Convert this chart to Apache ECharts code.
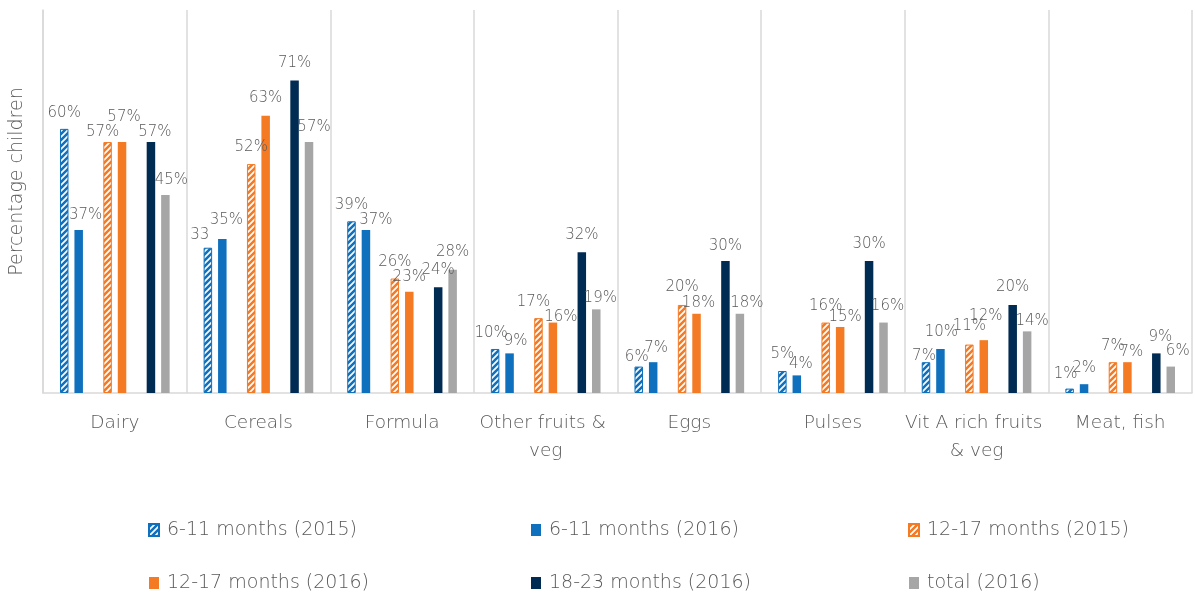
<!DOCTYPE html>
<html>
<head>
<meta charset="utf-8">
<script src="https://cdn.jsdelivr.net/npm/echarts@6/dist/echarts.min.js"></script>
<style>
  html, body { margin: 0; padding: 0; background: #fff; }
  #chart { width: 1195px; height: 594px; }
</style>
</head>
<body>
<div id="chart"></div>
<script>
// Food groups eaten by young children, by age band and survey year
const categories = ['Dairy', 'Cereals', 'Formula', 'Other fruits & veg', 'Eggs', 'Pulses', 'Vit A rich fruits & veg', 'Meat, fish'];

const age6to11_2015 = [60, 33, 39, 10, 6, 5, 7, 1];
const age6to11_2016 = [37, 35, 37, 9, 7, 4, 10, 2];
const age12to17_2015 = [57, 52, 26, 17, 20, 16, 11, 7];
const age12to17_2016 = [57, 63, 23, 16, 18, 15, 12, 7];
const age18to23_2016 = [57, 71, 24, 32, 30, 30, 20, 9];
const total2016 = [45, 57, 28, 19, 18, 16, 14, 6];

// value labels printed without a percent sign: [series name, category index]
const bareLabels = [['6-11 months (2015)', 1]];

// hand placement of crowded value labels, [dx, dy] in px from the default spot above each bar
const labelNudge = {
  '6-11 months (2015)':  [[0, 1], [-8, 4], [0, 0], [-4, 1], [-2, 7], [0, 0], [-2, 10], [-4, 2]],
  '6-11 months (2016)':  [[7, 1], [4, -2], [10, 6], [6, 4], [3, 2], [4, 5], [1, 0], [0, 0]],
  '12-17 months (2015)': [[-5, 7], [0, 0], [0, 0], [-5, 0], [0, -1], [0, 0], [0, -2], [0, 0]],
  '12-17 months (2016)': [[2, -8], [0, -1], [0, 2], [8, 11], [2, 6], [5, 7], [2, -8], [4, 6]],
  '18-23 months (2016)': [[4, 7], [0, -1], [0, -1], [0, -1], [0, 2], [0, 0], [0, -1], [4, 0]],
  'total (2016)':        [[6, 2], [5, 2], [0, -1], [4, 5], [7, 6], [4, 0], [5, 6], [7, 1]]
};

const TEXT = '#595959';
const FONT = 'DejaVu Sans';
const BLUE = '#0F71BD';
const ORANGE = '#F47A24';
const NAVY = '#002B52';
const GREY = '#A6A6A6';

// diagonal white hatch over a solid colour, used for the 2015 survey bars
function hatch(color) {
  const c = document.createElement('canvas');
  c.width = 6; c.height = 6;
  const g = c.getContext('2d');
  g.fillStyle = color;
  g.fillRect(0, 0, 6, 6);
  g.strokeStyle = '#ffffff';
  g.lineWidth = 1.7;
  g.beginPath();
  g.moveTo(-3, 3); g.lineTo(3, -3);
  g.moveTo(0, 6); g.lineTo(6, 0);
  g.moveTo(3, 9); g.lineTo(9, 3);
  g.stroke();
  return { image: c, repeat: 'repeat' };
}

function bar(name, values, color, hatched) {
  const nudges = labelNudge[name];
  return {
    name: name,
    type: 'bar',
    data: values.map(function (v, i) {
      return { value: v, label: { offset: nudges[i] } };
    }),
    barWidth: 8.5,
    barGap: '70%',
    itemStyle: hatched
      ? { color: hatch(color), borderColor: color, borderWidth: 1 }
      : { color: color },
    label: {
      show: true,
      position: 'top',
      distance: 9,
      color: TEXT,
      fontFamily: FONT,
      fontWeight: 300,
      fontSize: 15,
      formatter: function (p) {
        const bare = bareLabels.some(function (b) { return b[0] === p.seriesName && b[1] === p.dataIndex; });
        return p.value + (bare ? '' : '%');
      }
    }
  };
}

// empty slot that keeps the space between age groups inside each category
function slot(name) {
  return { name: name, type: 'bar', data: categories.map(function () { return null; }), barWidth: 8.5, barGap: '70%' };
}

const series = [
  bar('6-11 months (2015)', age6to11_2015, BLUE, true),
  bar('6-11 months (2016)', age6to11_2016, BLUE, false),
  slot('slot-a'),
  bar('12-17 months (2015)', age12to17_2015, ORANGE, true),
  bar('12-17 months (2016)', age12to17_2016, ORANGE, false),
  slot('slot-b'),
  bar('18-23 months (2016)', age18to23_2016, NAVY, false),
  bar('total (2016)', total2016, GREY, false)
];

function legendColumn(left, names) {
  return {
    orient: 'vertical',
    left: left,
    top: 519,
    height: 80,
    padding: 0,
    data: names,
    icon: 'rect',
    itemWidth: 10,
    itemHeight: 12,
    itemGap: 31,
    selectedMode: false,
    textStyle: { color: TEXT, fontFamily: FONT, fontWeight: 300, fontSize: 19, lineHeight: 22, padding: [0, 0, 0, 3] }
  };
}

const chart = echarts.init(document.getElementById('chart'), null, { renderer: 'canvas' });
chart.setOption({
  animation: false,
  backgroundColor: '#ffffff',
  grid: { left: 43, right: 0, top: 10, bottom: 201, containLabel: false },
  legend: [
    legendColumn(148, ['6-11 months (2015)', '12-17 months (2016)']),
    legendColumn(531, ['6-11 months (2016)', '18-23 months (2016)']),
    legendColumn(908, ['12-17 months (2015)', 'total (2016)'])
  ],
  xAxis: {
    type: 'category',
    data: categories,
    axisLine: { lineStyle: { color: '#D9D9D9', width: 1.5 } },
    axisTick: { show: false },
    splitLine: { show: true, lineStyle: { color: '#D9D9D9', width: 1.5 } },
    axisLabel: {
      color: TEXT, fontFamily: FONT, fontWeight: 300, fontSize: 18.5, lineHeight: 28,
      margin: 16, width: 144, overflow: 'break', interval: 0
    }
  },
  yAxis: {
    type: 'value',
    min: 0,
    max: 87,
    name: 'Percentage children',
    nameLocation: 'middle',
    nameGap: 16,
    nameRotate: 90,
    nameTextStyle: { color: TEXT, fontFamily: FONT, fontWeight: 300, fontSize: 19, padding: [0, 0, 0, 40] },
    axisLine: { show: true, lineStyle: { color: '#D9D9D9', width: 1.5 } },
    axisTick: { show: false },
    axisLabel: { show: false },
    splitLine: { show: false }
  },
  series: series
});
</script>
</body>
</html>
